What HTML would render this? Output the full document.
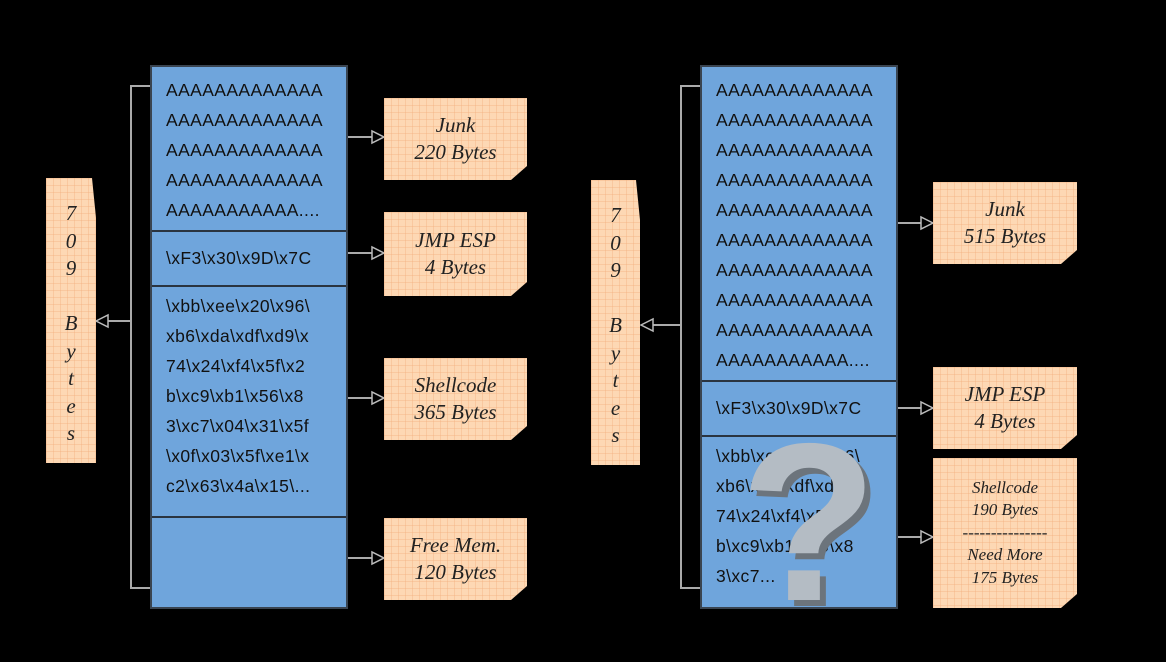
<!DOCTYPE html>
<html><head><meta charset="utf-8"><style>
body{margin:0;width:1166px;height:662px;background:#000;position:relative;overflow:hidden;font-family:"Liberation Sans",sans-serif}
.a{position:absolute}
.col{position:absolute;background:#6fa5dc;border:2px solid #3a4450;box-sizing:border-box}
.sec{position:absolute;left:0;right:0;border-top:2px solid #2a3440;box-sizing:border-box;padding-left:14px;font-size:17.5px;letter-spacing:0.4px;color:#111;line-height:30px;white-space:nowrap}
.note{position:absolute;background-color:#fdd8b4;background-image:linear-gradient(rgba(240,170,120,.35) 1px,transparent 1px),linear-gradient(90deg,rgba(240,170,120,.35) 1px,transparent 1px);background-size:7px 7px;font-family:"Liberation Serif",serif;font-style:italic;color:#222;text-align:center;display:flex;flex-direction:column;justify-content:center;font-size:21px;line-height:27px;clip-path:polygon(0 0,100% 0,100% calc(100% - 14px),calc(100% - 16px) 100%,0 100%)}
.vert{font-size:21px;line-height:27.5px;justify-content:flex-start;padding-top:22px;box-sizing:border-box;clip-path:polygon(0 0,calc(100% - 4px) 0,100% 40px,100% 100%,0 100%)}
</style></head><body>
<svg class="a" style="left:0;top:0" width="1166" height="662">
<g stroke="#aaa" stroke-width="2" fill="none">
<path d="M151 86H131V588H151"/><path d="M131 321H100"/>
<path d="M701 86H681V588H701"/><path d="M681 325H645"/>
<path d="M347 137H374"/><path d="M347 253H374"/><path d="M347 398H374"/><path d="M347 558H374"/>
<path d="M897 223H923"/><path d="M897 408H923"/><path d="M897 537H923"/>
</g>
<g fill="#000" stroke="#bbb" stroke-width="1.5">
<path d="M96 321l12-6v12z"/><path d="M641 325l12-6v12z"/>
<path d="M384 137l-12-6v12z"/><path d="M384 253l-12-6v12z"/><path d="M384 398l-12-6v12z"/><path d="M384 558l-12-6v12z"/>
<path d="M933 223l-12-6v12z"/><path d="M933 408l-12-6v12z"/><path d="M933 537l-12-6v12z"/>
</g></svg>

<div class="col" style="left:150px;top:65px;width:198px;height:544px">
<div class="sec" style="top:0;height:165px;border-top:none;padding-top:8px">AAAAAAAAAAAAA<br>AAAAAAAAAAAAA<br>AAAAAAAAAAAAA<br>AAAAAAAAAAAAA<br>AAAAAAAAAAA....</div>
<div class="sec" style="top:163px;height:56px;padding-top:11px">\xF3\x30\x9D\x7C</div>
<div class="sec" style="top:218px;height:233px;padding-top:4px">\xbb\xee\x20\x96\<br>xb6\xda\xdf\xd9\x<br>74\x24\xf4\x5f\x2<br>b\xc9\xb1\x56\x8<br>3\xc7\x04\x31\x5f<br>\x0f\x03\x5f\xe1\x<br>c2\x63\x4a\x15\...</div>
<div class="sec" style="top:449px;height:93px"></div>
</div>

<div class="col" style="left:700px;top:65px;width:198px;height:544px">
<div class="sec" style="top:0;height:315px;border-top:none;padding-top:8px">AAAAAAAAAAAAA<br>AAAAAAAAAAAAA<br>AAAAAAAAAAAAA<br>AAAAAAAAAAAAA<br>AAAAAAAAAAAAA<br>AAAAAAAAAAAAA<br>AAAAAAAAAAAAA<br>AAAAAAAAAAAAA<br>AAAAAAAAAAAAA<br>AAAAAAAAAAA....</div>
<div class="sec" style="top:313px;height:56px;padding-top:11px">\xF3\x30\x9D\x7C</div>
<div class="sec" style="top:368px;height:174px;padding-top:4px">\xbb\xee\x20\x96\<br>xb6\xda\xdf\xd9\x<br>74\x24\xf4\x5f\x2<br>b\xc9\xb1\x56\x8<br>3\xc7...</div>
</div>

<div class="a" style="left:740px;top:410px;font:bold 225px/1 'Liberation Sans',sans-serif;color:#b4bcc4;text-shadow:6px 6px 0 #6c747c;">?</div>

<div class="note" style="left:384px;top:98px;width:143px;height:82px">Junk<br>220 Bytes</div>
<div class="note" style="left:384px;top:212px;width:143px;height:84px">JMP ESP<br>4 Bytes</div>
<div class="note" style="left:384px;top:358px;width:143px;height:82px">Shellcode<br>365 Bytes</div>
<div class="note" style="left:384px;top:518px;width:143px;height:82px">Free Mem.<br>120 Bytes</div>
<div class="note" style="left:933px;top:182px;width:144px;height:82px">Junk<br>515 Bytes</div>
<div class="note" style="left:933px;top:367px;width:144px;height:82px">JMP ESP<br>4 Bytes</div>
<div class="note" style="left:933px;top:458px;width:144px;height:150px;font-size:17px;line-height:22.5px">Shellcode<br>190 Bytes<br>---------------<br>Need More<br>175 Bytes</div>
<div class="note vert" style="left:46px;top:178px;width:50px;height:285px">7<br>0<br>9<br><br>B<br>y<br>t<br>e<br>s</div>
<div class="note vert" style="left:591px;top:180px;width:49px;height:285px">7<br>0<br>9<br><br>B<br>y<br>t<br>e<br>s</div>
</body></html>
